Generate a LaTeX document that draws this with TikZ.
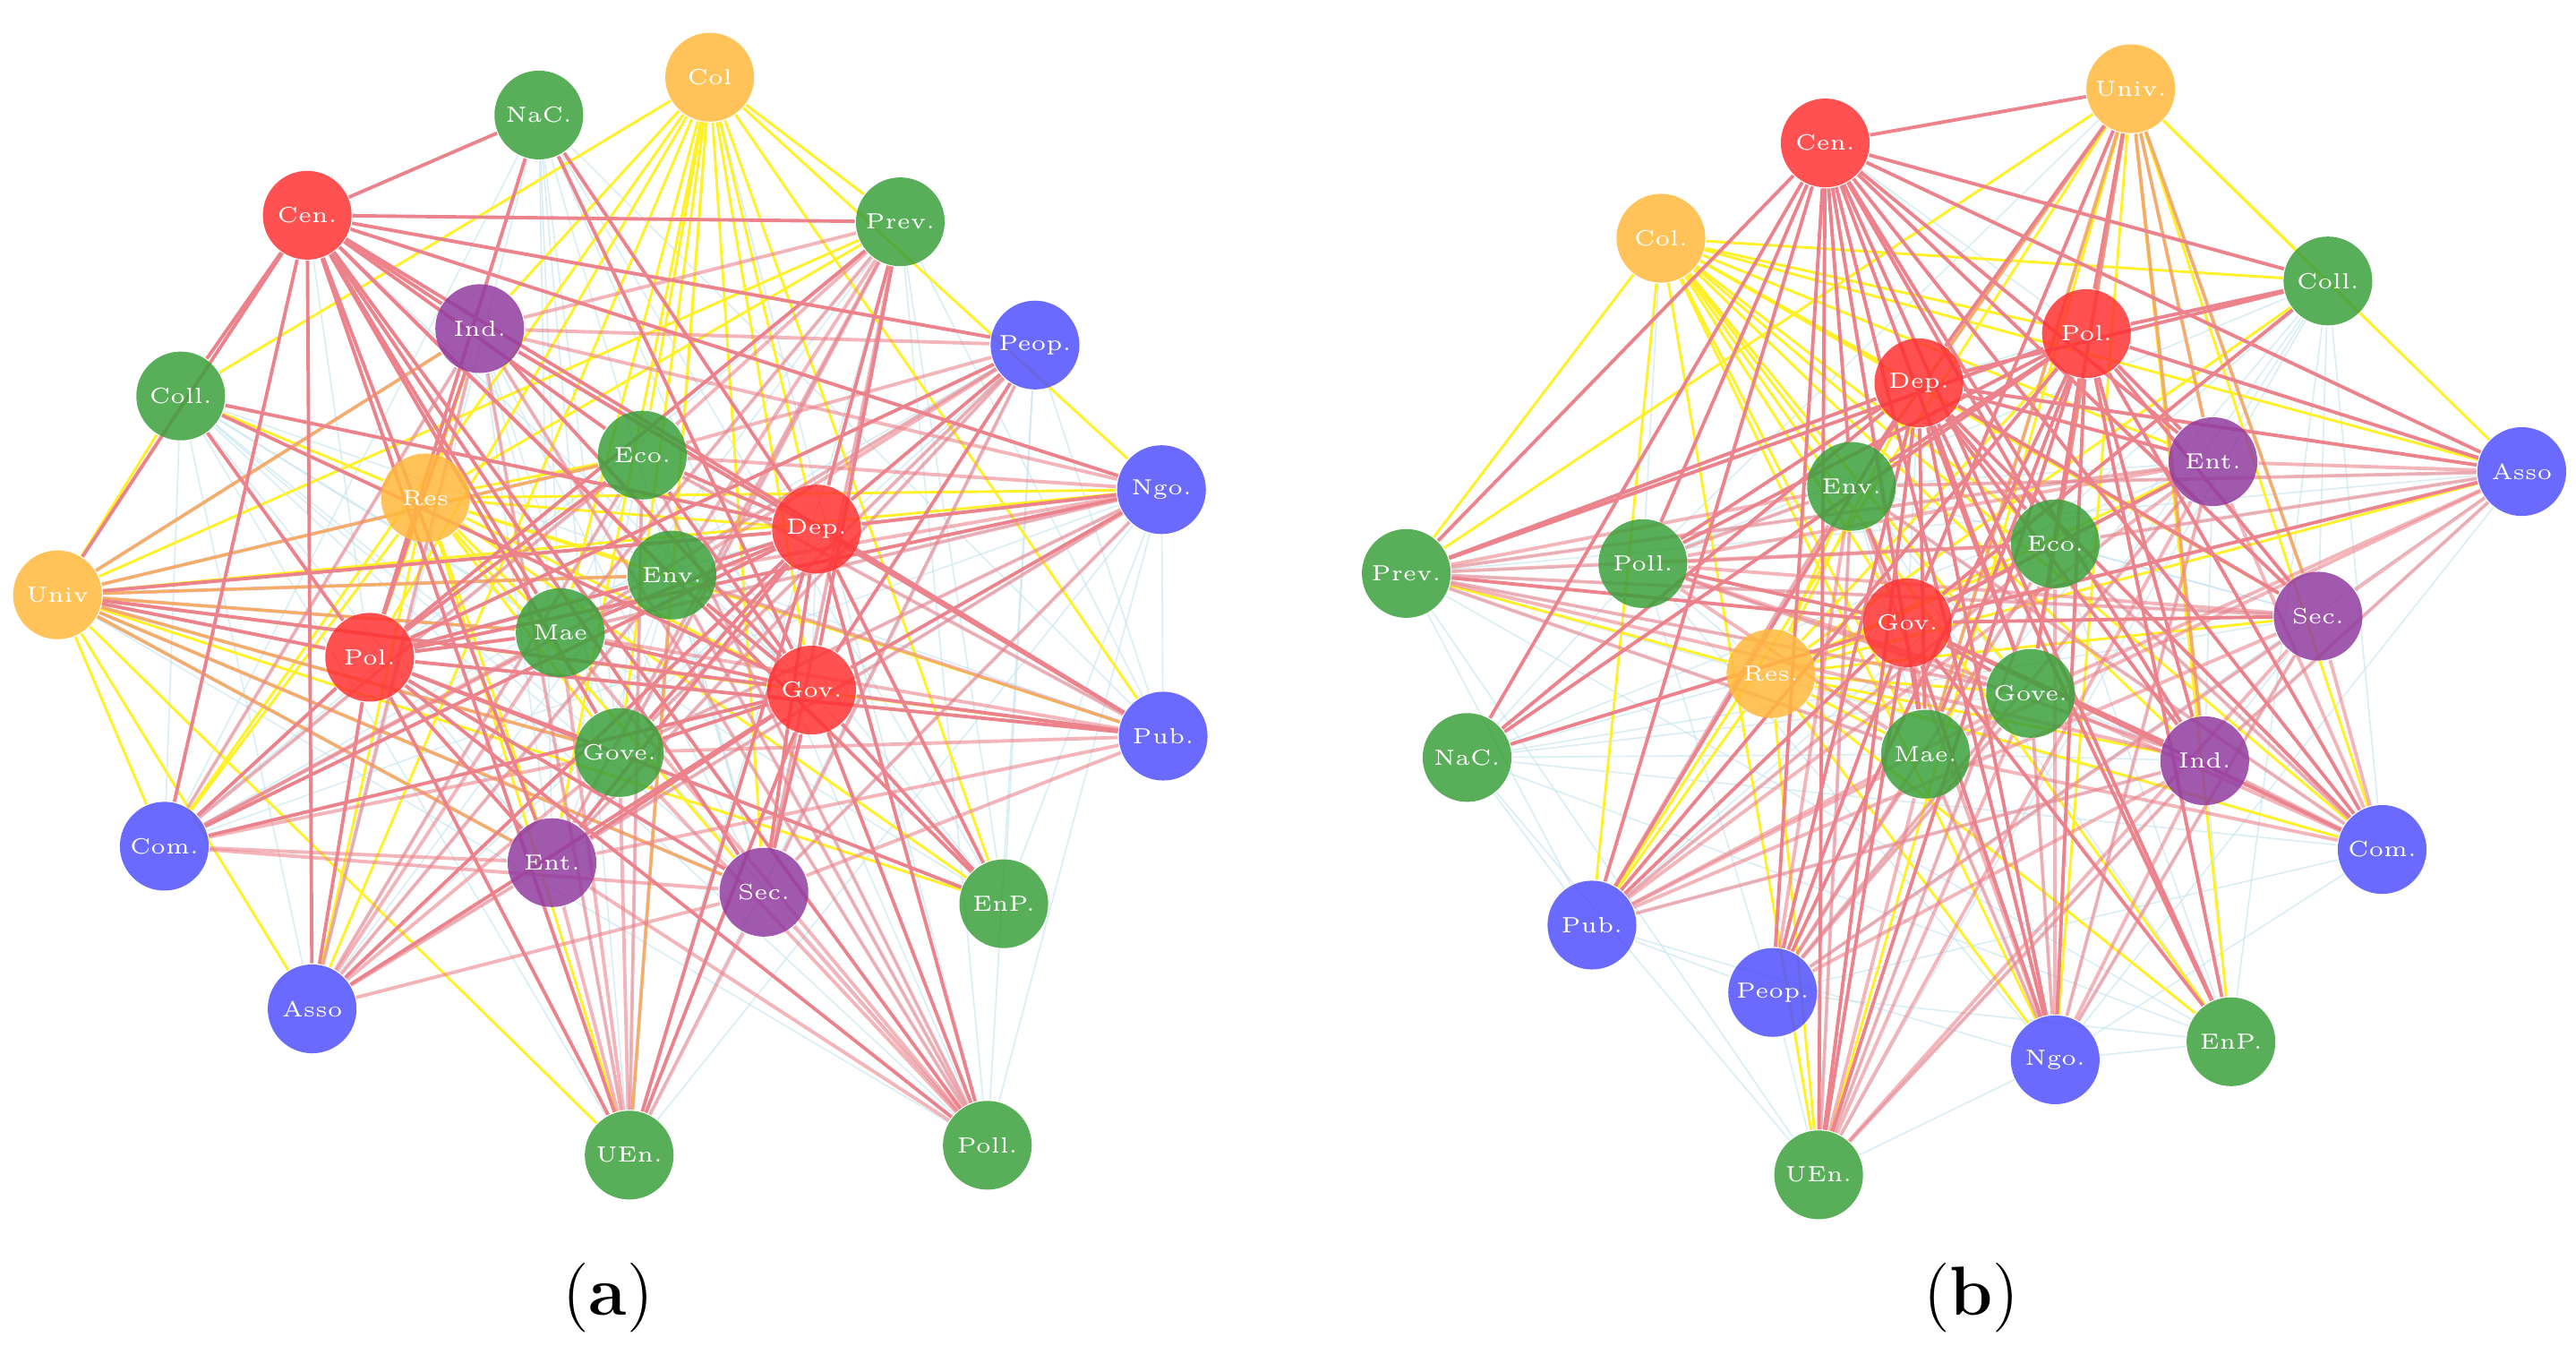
\documentclass[tikz,border=0pt]{standalone}
\usetikzlibrary{backgrounds}
\definecolor{cg}{RGB}{60,160,60}
\definecolor{cr}{RGB}{255,50,50}
\definecolor{co}{RGB}{255,185,60}
\definecolor{cp}{RGB}{145,60,160}
\definecolor{cb}{RGB}{80,80,255}
\definecolor{ey}{RGB}{255,240,40}
\definecolor{er}{RGB}{235,130,140}
\definecolor{ec}{RGB}{200,230,240}
\tikzset{
 nd/.style={circle,minimum size=0.54cm,inner sep=0,fill opacity=0.85,text opacity=1,text=white,font=\fontsize{3.8}{4}\selectfont},
 g/.style={nd,fill=cg}, r/.style={nd,fill=cr}, o/.style={nd,fill=co}, p/.style={nd,fill=cp}, b/.style={nd,fill=cb},
 ye/.style={draw=ey,line width=0.45pt},
 re/.style={draw=er,line width=0.6pt},
 ce/.style={draw=ec,line width=0.25pt,opacity=0.7},
 captxt/.style={font=\fontsize{12}{13}\selectfont}
}
\begin{document}
\begin{tikzpicture}[x=0.01cm,y=-0.01cm]
\useasboundingbox (0,0) rectangle (1568,819);
% (a)
\node[o] (aCol) at (432,47) {Col};
\node[g] (aNaC) at (328,70) {NaC.};
\node[r] (aCen) at (187,131) {Cen.};
\node[g] (aPrev) at (548,135) {Prev.};
\node[p] (aInd) at (292,200) {Ind.};
\node[b] (aPeop) at (630,210) {Peop.};
\node[g] (aColl) at (110,241) {Coll.};
\node[g] (aEco) at (391,277) {Eco.};
\node[o] (aRes) at (259,303) {Res};
\node[b] (aNgo) at (707,298) {Ngo.};
\node[r] (aDep) at (497,322) {Dep.};
\node[o] (aUniv) at (35,362) {Univ};
\node[g] (aEnv) at (409,350) {Env.};
\node[g] (aMae) at (341,385) {Mae};
\node[r] (aPol) at (225,400) {Pol.};
\node[r] (aGov) at (494,420) {Gov.};
\node[b] (aPub) at (708,448) {Pub.};
\node[g] (aGove) at (377,458) {Gove.};
\node[b] (aCom) at (100,515) {Com.};
\node[p] (aEnt) at (336,525) {Ent.};
\node[p] (aSec) at (465,543) {Sec.};
\node[g] (aEnP) at (611,550) {EnP.};
\node[b] (aAsso) at (190,614) {Asso};
\node[g] (aUEn) at (383,703) {UEn.};
\node[g] (aPoll) at (601,697) {Poll.};
% (b)
\node[o] (bUniv) at (1297,54) {Univ.};
\node[r] (bCen) at (1111,87) {Cen.};
\node[o] (bCol) at (1011,145) {Col.};
\node[g] (bColl) at (1417,171) {Coll.};
\node[r] (bPol) at (1270,203) {Pol.};
\node[r] (bDep) at (1168,233) {Dep.};
\node[p] (bEnt) at (1347,281) {Ent.};
\node[b] (bAsso) at (1535,287) {Asso};
\node[g] (bEnv) at (1127,296) {Env.};
\node[g] (bPrev) at (856,349) {Prev.};
\node[g] (bPoll) at (1000,343) {Poll.};
\node[g] (bEco) at (1251,331) {Eco.};
\node[p] (bSec) at (1411,375) {Sec.};
\node[r] (bGov) at (1161,379) {Gov.};
\node[o] (bRes) at (1078,410) {Res.};
\node[g] (bGove) at (1236,422) {Gove.};
\node[g] (bNaC) at (893,461) {NaC.};
\node[g] (bMae) at (1172,459) {Mae.};
\node[p] (bInd) at (1342,463) {Ind.};
\node[b] (bCom) at (1450,517) {Com.};
\node[b] (bPub) at (969,563) {Pub.};
\node[b] (bPeop) at (1079,604) {Peop.};
\node[b] (bNgo) at (1251,645) {Ngo.};
\node[g] (bEnP) at (1358,634) {EnP.};
\node[g] (bUEn) at (1107,715) {UEn.};
\begin{pgfonlayer}{background}
\foreach \s in {a,b}{
 \foreach \i in {Col,NaC,Cen,Prev,Ind,Peop,Coll,Eco,Res,Ngo,Dep,Univ,Env}
  \foreach \j in {Mae,Pol,Gov,Pub,Gove,Com,Ent,Sec,EnP,Asso,UEn,Poll}
   \path[ce] (\s\i) -- (\s\j);
 \foreach \i in {Col,Res,Univ}
  \foreach \j in {Eco,Env,Mae,Gove,Ent,Sec,Dep,Gov,Pol,Asso,Com,UEn,Coll,Ngo,Pub,Prev,Ind,EnP}
   \path[ye] (\s\i) -- (\s\j);
 \foreach \i in {Dep,Gov,Pol,Cen}
  \foreach \j in {Univ,Coll,Com,Asso,Mae,Ent,Sec,Ind,Prev,Peop,Ngo,Pub,UEn,Poll,EnP,Eco,Env,Gove,NaC}
   \path[re] (\s\i) -- (\s\j);
 \foreach \i in {Eco,Env,Mae,Gove,Ind,Ent,Sec}
  \foreach \j in {Peop,Ngo,Pub,Asso,Com,UEn,Poll,Univ,Prev}
   \path[re,opacity=0.6] (\s\i) -- (\s\j);
}
\end{pgfonlayer}
\node[captxt] (capa) at (370,790) {(\textbf{a})};
\node[captxt] (capb) at (1200,790) {(\textbf{b})};
\end{tikzpicture}
\end{document}
